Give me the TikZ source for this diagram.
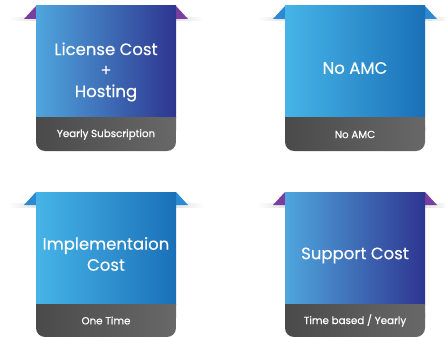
\documentclass[tikz,border=0pt]{standalone}
\usepackage{fontspec}
\setmainfont{Poppins}
\newfontfamily\titlefont[FakeBold=0.3]{Poppins}
\newfontfamily\subfont[FakeBold=0.6]{Poppins}
\definecolor{navy}{HTML}{2E3590}
\definecolor{sky}{HTML}{4FA6DD}
\definecolor{skyB}{HTML}{46B4E7}
\definecolor{deepB}{HTML}{1A70B8}
\definecolor{purp}{HTML}{7A3EA0}
\definecolor{foldB}{HTML}{2B8AD2}
\definecolor{barL}{HTML}{4A4A4A}
\definecolor{barR}{HTML}{686868}
\tikzset{
  title/.style={text=white,font=\titlefont\fontsize{16.5}{21}\selectfont,align=center},
  sub/.style={text=white,font=\subfont\fontsize{10.3}{12}\selectfont},
}
% #1 x-left, #2 y-top, #3 left colour, #4 right colour, #5 fold colour, #6 title, #7 subtitle, #8 name, #9 title y
\newcommand\mycard[9]{%
  \begin{scope}[shift={(#1,#2)}]
    % shadow
    \shade[left color=white,right color=white,middle color=black!40]
      (-28,11.5) rectangle (168,15);
    % folds
    \fill[#5] (-12,13) -- (0,0) -- (0,13) -- cycle;
    \fill[#5] (140,0) -- (152,13) -- (140,13) -- cycle;
    % blue body
    \shade[left color=#3,right color=#4] (0,0) rectangle (140,112);
    % gray bar
    \shade[left color=barL,right color=barR,rounded corners=9pt]
      (0,112) -- (0,145) -- (140,145) -- (140,112) -- cycle;
    \shade[left color=barL,right color=barR] (0,112) rectangle (140,125);
    \node[title] (#8t) at (70,#9) {#6};
    \node[sub] (#8s) at (70,128.5) {#7};
  \end{scope}}
\begin{document}
\begin{tikzpicture}[x=1pt,y=-1pt]
\useasboundingbox (0,0) rectangle (445,337);
\mycard{36}{6}{sky}{navy}{purp}{License Cost\\+\\Hosting}{Yearly Subscription}{a}{66}
\mycard{285}{6}{skyB}{deepB}{foldB}{No AMC}{No AMC}{b}{62}
\mycard{36}{192}{skyB}{deepB}{foldB}{Implementaion\\Cost}{One Time}{c}{62}
\mycard{285}{192}{sky}{navy}{purp}{Support Cost}{Time based / Yearly}{d}{63.5}
\end{tikzpicture}
\end{document}
